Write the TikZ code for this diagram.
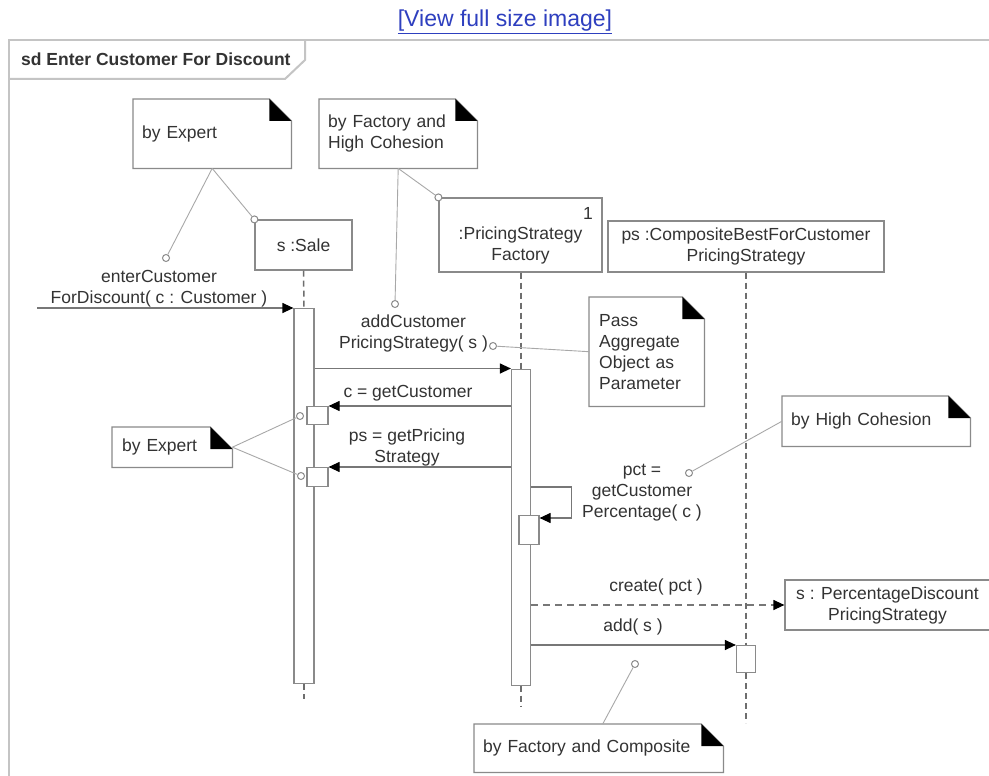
\documentclass[tikz,border=0pt]{standalone}
\usepackage{fontspec}
\setmainfont{Liberation Sans}
\usetikzlibrary{arrows.meta,calc}
\definecolor{txt}{HTML}{333333}
\definecolor{boxline}{HTML}{8A8A8A}
\definecolor{msgline}{HTML}{777777}
\definecolor{connline}{HTML}{A8A8A8}
\definecolor{frameline}{HTML}{C4C4C4}
\definecolor{lifecol}{HTML}{6E6E6E}
\definecolor{linkblue}{HTML}{2E3FBF}
\newcommand{\dognote}[1]{%
  \draw[noteline] (#1.north west) -- ([xshift=-22pt]#1.north east) -- ([yshift=-22pt]#1.north east) -- (#1.south east) -- (#1.south west) -- cycle;
  \fill[black] ([xshift=-22pt]#1.north east) -- ([xshift=-22pt,yshift=-22pt]#1.north east) -- ([yshift=-22pt]#1.north east) -- cycle;}
\begin{document}
\begin{tikzpicture}[x=1pt,y=-1pt,
  every node/.style={font=\fontsize{17.5}{21}\selectfont, text=txt},
  objbox/.style={draw=boxline, line width=1.2pt, fill=white, inner sep=0pt, align=center},
  notebox/.style={anchor=north west, inner xsep=9pt, inner ysep=0pt, align=left},
  noteline/.style={draw=boxline, line width=1.2pt},
  actbox/.style={draw=boxline, line width=1.2pt, fill=white, inner sep=0pt, minimum width=20pt},
  pinc/.style={circle, draw=boxline, line width=1pt, fill=white, inner sep=0pt, minimum size=7pt},
  conn/.style={draw=connline, line width=0.9pt},
  msg/.style={draw=msgline, line width=1.2pt, -{Triangle[length=11pt,width=10pt,fill=black,color=black]}},
  lifel/.style={draw=lifecol, line width=1.5pt, dash pattern=on 6pt off 4pt},
  lbl/.style={align=center, inner sep=0pt}]
\useasboundingbox (0,0) rectangle (989,776);
\clip (0,0) rectangle (989,776);
\fill[white] (0,0) rectangle (989,776);

% link
\node[font=\fontsize{23}{27}\selectfont, text=linkblue, inner sep=0pt] (link) at (505,22) {\underline{[View full size image]}};

% frame
\draw[frameline, line width=2pt] (989,40) -- (9,40) -- (9,776);
\draw[frameline, line width=2pt] (9,79) -- (285,79) -- (305,60) -- (305,40);
\node[anchor=west, font=\bfseries\fontsize{17.5}{21}\selectfont, inner sep=0pt] (title) at (21,59) {sd Enter Customer For Discount};

% notes
\node[notebox, text width=140pt, minimum height=69pt] (n1) at (133,99) {by Expert};
\dognote{n1}
\node[notebox, text width=140pt, minimum height=69pt] (n2) at (319,99) {by Factory and\\High Cohesion};
\dognote{n2}
\node[notebox, inner xsep=10pt, text width=95pt, minimum height=109pt] (n3) at (589,297) {Pass\\Aggregate\\Object as\\Parameter};
\dognote{n3}
\node[notebox, inner xsep=10pt, text width=100pt, minimum height=40pt] (n4) at (112,427) {by Expert};
\dognote{n4}
\node[notebox, text width=170pt, minimum height=50pt] (n5) at (782,396) {by High Cohesion};
\dognote{n5}
\node[notebox, text width=231pt, minimum height=48pt] (n6) at (474,724) {by Factory and Composite};
\dognote{n6}

% object boxes
\node[objbox, minimum width=97pt, minimum height=50pt] (sale) at (303.5,245) {s :Sale};
\node[objbox, minimum width=163pt, minimum height=74pt] (fac) at (520.5,235) {};
\node[lbl] (factxt) at (520.5,245) {:PricingStrategy\\Factory};
\node[lbl] (facone) at (588,213) {1};
\node[objbox, minimum width=276pt, minimum height=51pt] (comp) at (746,246.5) {ps :CompositeBestForCustomer\\PricingStrategy};
\node[objbox, minimum width=205pt, minimum height=50pt] (pds) at (887.5,605) {s : PercentageDiscount\\PricingStrategy};

% activations
\node[actbox, minimum height=375pt, anchor=north] (saleact) at (304,308) {};
\node[actbox, minimum width=19pt, minimum height=316pt, anchor=north] (facact) at (521,368.5) {};
\node[actbox, minimum width=19pt, minimum height=27pt, anchor=north] (compact) at (746,645) {};
\node[actbox, minimum width=21pt, minimum height=18pt, anchor=north] (sb1) at (317.5,406) {};
\node[actbox, minimum width=21pt, minimum height=19pt, anchor=north] (sb2) at (317.5,467) {};
\node[actbox, minimum width=20pt, minimum height=29pt, anchor=north] (fsb) at (529,515) {};

% lifelines
\draw[lifel] (sale.south) -- (saleact.north);
\draw[lifel] (saleact.south) -- ++(0,15);
\draw[lifel] (fac.south -| facact.north) -- (facact.north);
\draw[lifel] (facact.south) -- ++(0,21);
\draw[lifel] (comp.south) -- (compact.north);
\draw[lifel] (compact.south) -- ++(0,50);

% messages
\coordinate (entry) at (37,308);
\draw[msg] (entry) -- (saleact.north west);
\node[lbl] (m1) at (159,288.5) {enterCustomer\\ForDiscount( c : Customer )};
\draw[msg] (facact.north west -| saleact.east) -- (facact.north west);
\node[lbl] (m2) at (413.5,333.5) {addCustomer\\PricingStrategy( s )};
\draw[msg] (sb1.north east -| facact.west) -- (sb1.north east);
\node[lbl] (m3) at (408,393) {c = getCustomer};
\draw[msg] (sb2.north east -| facact.west) -- (sb2.north east);
\node[lbl] (m4) at (407,447) {ps = getPricing\\Strategy};
\draw[msg] (facact.east |- fsb.north) ++(0,-28) -- ++(40,0) |- ([yshift=-3pt]fsb.north east);
\node[lbl] (m5) at (642,493) {pct =\\getCustomer\\Percentage( c )};
\draw[msg, dash pattern=on 7pt off 5pt] (facact.east |- pds.west) -- (pds.west);
\node[lbl] (m6) at (656,587) {create( pct )};
\draw[msg] (compact.north west -| facact.east) -- (compact.north west);
\node[lbl] (m7) at (633,627) {add( s )};

% note connectors
\node[pinc] (c1) at (166,258) {};
\node[pinc] (c2) at (sale.north west) {};
\node[pinc] (c3) at (fac.north west) {};
\node[pinc] (c4) at (395,304) {};
\node[pinc] (c5) at (493,346) {};
\node[pinc] (c6) at (300,416) {};
\node[pinc] (c7) at (301,476) {};
\node[pinc] (c8) at (689,473) {};
\node[pinc] (c9) at (635,664) {};
\draw[conn] (n1.south) -- (c1);
\draw[conn] (n1.south) -- (c2);
\draw[conn] (n2.south) -- (c3);
\draw[conn] (n2.south) -- (c4);
\draw[conn] (n3.west) -- (c5);
\draw[conn] (n4.east) -- (c6);
\draw[conn] (n4.east) -- (c7);
\draw[conn] (n5.west) -- (c8);
\draw[conn] ([xshift=4pt]n6.north) -- (c9);
\end{tikzpicture}
\end{document}
